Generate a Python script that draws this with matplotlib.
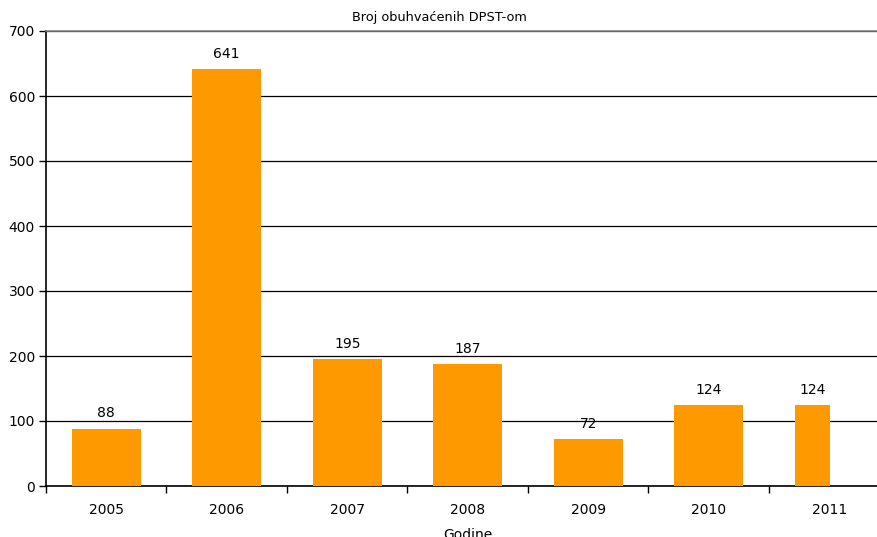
import matplotlib
matplotlib.use("Agg")
import matplotlib.pyplot as plt
from matplotlib.ticker import FixedLocator, NullFormatter

years = ["2005", "2006", "2007", "2008", "2009", "2010", "2011"]
values = [88, 641, 195, 187, 72, 124, 124]
yticks = [0, 100, 200, 300, 400, 500, 600, 700]
title = "Broj obuhvaćenih DPST-om"
xlabel = "Godine"

fig = plt.figure(figsize=(8.78, 5.37), dpi=100)
ax = fig.add_axes([46/878, 51/537, 843.5/878, 455/537])

x = list(range(len(years)))
widths = [0.573] * (len(years) - 1) + [0.29]
lefts = [i - 0.2865 for i in x]
bars = ax.bar(lefts, values, width=widths, align="edge", color="#FF9900", zorder=3)

for i, v in enumerate(values):
    ax.text(lefts[i] + widths[i] / 2, v + 13, str(v),
            ha="center", va="bottom", fontsize=10, color="black")

ax.set_xlim(-0.5, len(years) - 0.5)
ax.set_ylim(0, 700)
ax.set_yticks(yticks)
ax.yaxis.grid(True, color="black", linewidth=0.9, zorder=1)
ax.set_axisbelow(True)

ax.set_xticks(x)
ax.set_xticklabels(years, fontsize=10)
ax.xaxis.set_minor_locator(FixedLocator([i - 0.5 for i in range(len(years) + 1)]))
ax.xaxis.set_minor_formatter(NullFormatter())
ax.tick_params(axis="x", which="major", length=0, pad=12)
ax.tick_params(axis="x", which="minor", length=5, width=1, color="black")
ax.tick_params(axis="y", length=5, width=1, labelsize=10, pad=3)

for s in ["left", "bottom"]:
    ax.spines[s].set_color("black")
    ax.spines[s].set_linewidth(1.2)
ax.spines["top"].set_color("#808080")
ax.spines["top"].set_linewidth(1.2)
ax.spines["right"].set_visible(False)

ax.set_xlabel(xlabel, fontsize=10, labelpad=8)
fig.text(0.5, 1 - 17/537, title, ha="center", va="center", fontsize=9.3)

fig.savefig("out.png", dpi=100)
